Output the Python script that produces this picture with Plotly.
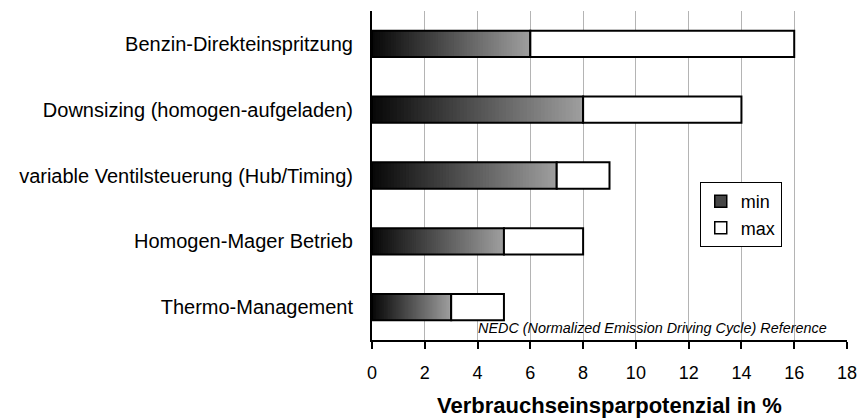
import plotly.graph_objects as go

categories = ["Benzin-Direkteinspritzung", "Downsizing (homogen-aufgeladen)",
              "variable Ventilsteuerung (Hub/Timing)", "Homogen-Mager Betrieb",
              "Thermo-Management"]
min_values = [6, 8, 7, 5, 3]
max_values = [16, 14, 9, 8, 5]
x_ticks = [0, 2, 4, 6, 8, 10, 12, 14, 16, 18]

FONT = "Liberation Sans, Arial, sans-serif"
N = 60
c0, c1 = 8, 158

fig = go.Figure()
# gradient for min bars: successive overlaid bars ending at the min value
for i in range(N):
    t = i / (N - 1)
    g = int(round(c0 + (c1 - c0) * t))
    bases = [m * i / N for m in min_values]
    lens = [m - b for m, b in zip(min_values, bases)]
    fig.add_trace(go.Bar(
        y=categories, x=lens, base=bases, orientation="h",
        marker=dict(color=f"rgb({g},{g},{g})", line=dict(width=0)),
        showlegend=False, hoverinfo="skip"))
# outline of min bars
fig.add_trace(go.Bar(
    y=categories, x=min_values, base=[0] * len(min_values), orientation="h",
    marker=dict(color="rgba(0,0,0,0)", line=dict(color="black", width=2)),
    showlegend=False, hoverinfo="skip"))
# max segments
fig.add_trace(go.Bar(
    y=categories, x=[mx - mn for mx, mn in zip(max_values, min_values)],
    base=min_values, orientation="h", name="max",
    marker=dict(color="white", line=dict(color="black", width=2)),
    showlegend=False, hoverinfo="skip"))
# legend entries
fig.add_trace(go.Bar(y=[None], x=[None], orientation="h", name="min",
                     marker=dict(color="rgb(70,70,70)", line=dict(color="black", width=1.5))))
fig.add_trace(go.Bar(y=[None], x=[None], orientation="h", name="max",
                     marker=dict(color="white", line=dict(color="black", width=1.5))))

fig.add_annotation(
    text="<i>NEDC (Normalized Emission Driving Cycle) Reference</i>",
    x=17.3, xref="x", xanchor="right", y=0.036, yref="paper", yanchor="middle",
    showarrow=False, font=dict(family=FONT, size=14.4, color="black"))

fig.update_layout(
    width=858, height=419,
    margin=dict(l=372, r=11, t=11, b=79, autoexpand=False),
    barmode="overlay", bargap=0.6,
    plot_bgcolor="white", paper_bgcolor="white",
    font=dict(family=FONT, size=20, color="black"),
    legend=dict(x=0.69, y=0.48, xanchor="left", yanchor="top",
                bordercolor="black", borderwidth=1, bgcolor="white",
                font=dict(family=FONT, size=18, color="black"),
                traceorder="normal", itemwidth=30),
    xaxis=dict(range=[0, 18], tickvals=x_ticks, ticktext=[str(v) for v in x_ticks],
               showgrid=True, gridcolor="#b4b4b4", gridwidth=1,
               showline=True, linecolor="black", linewidth=2,
               ticks="outside", ticklen=7, tickwidth=2, tickcolor="black",
               tickfont=dict(size=18), zeroline=False, ticklabelstandoff=8,
               automargin=False,
               title=dict(text="<b>Verbrauchseinsparpotenzial in %</b>",
                          font=dict(size=22), standoff=16)),
    yaxis=dict(autorange="reversed", showline=True, linecolor="black", linewidth=2,
               ticks="", showgrid=False, ticklabelstandoff=13, automargin=False,
               tickfont=dict(size=20)),
)
fig.write_html("out.html",
               config={"responsive": False, "displayModeBar": False},
               post_script="document.body.style.margin='0';")
